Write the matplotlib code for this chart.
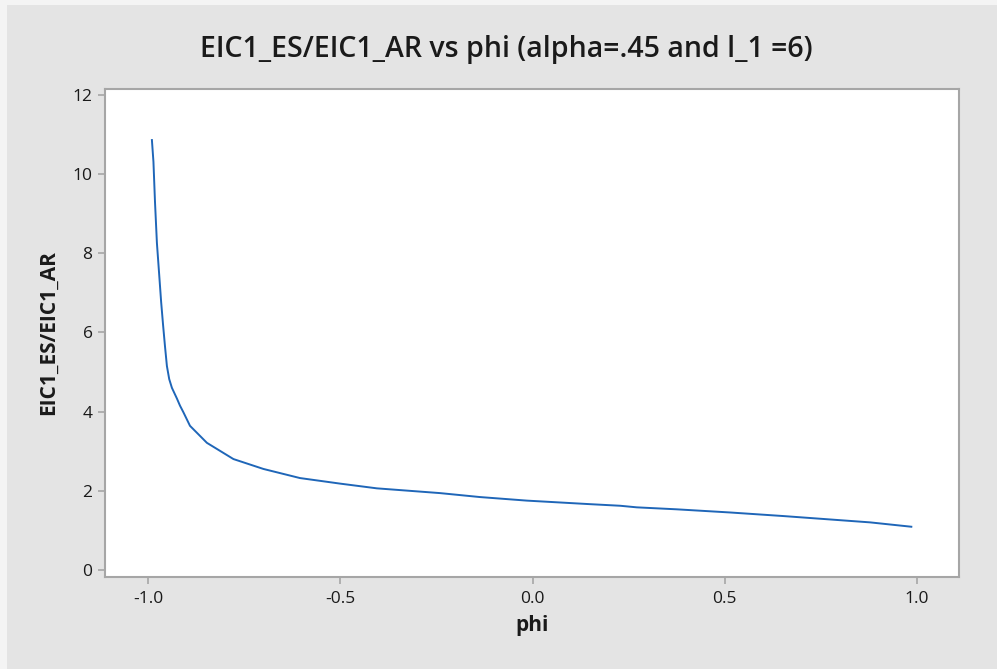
import matplotlib
matplotlib.use("Agg")
import matplotlib.pyplot as plt
from matplotlib.patches import Rectangle

# Data
phi = [-0.990, -0.986, -0.982, -0.977, -0.971, -0.966, -0.961, -0.956, -0.951,
       -0.945, -0.938, -0.925, -0.917, -0.908, -0.891, -0.847, -0.778, -0.700,
       -0.605, -0.501, -0.405, -0.241, -0.137, -0.015, 0.150, 0.228, 0.271,
       0.375, 0.514, 0.652, 0.765, 0.878, 0.985]
ratio = [10.86, 10.31, 9.30, 8.26, 7.45, 6.77, 6.19, 5.65, 5.15,
         4.82, 4.60, 4.33, 4.15, 3.98, 3.64, 3.21, 2.80, 2.55,
         2.32, 2.18, 2.06, 1.94, 1.84, 1.75, 1.66, 1.62, 1.58,
         1.53, 1.45, 1.36, 1.28, 1.20, 1.09]
x_ticks = [-1.0, -0.5, 0.0, 0.5, 1.0]
x_tick_labels = ["-1.0", "-0.5", "0.0", "0.5", "1.0"]
y_ticks = [0, 2, 4, 6, 8, 10, 12]

title = "EIC1_ES/EIC1_AR vs phi (alpha=.45 and l_1 =6)"
x_label = "phi"
y_label = "EIC1_ES/EIC1_AR"

plt.rcParams['font.family'] = ['Open Sans', 'DejaVu Sans']

fig = plt.figure(figsize=(9.97, 6.69), dpi=100)
fig.patch.set_facecolor('#f4f4f4')
fig.patches.append(Rectangle((7/997, 0), 1, 1 - 5/669, transform=fig.transFigure,
                             facecolor='#e4e4e4', edgecolor='none', zorder=-10))

ax = fig.add_axes([105/997, 92/669, (959-105)/997, (577-89)/669])
ax.set_facecolor('white')
ax.plot(phi, ratio, color='#1f66b8', linewidth=1.4)

ax.set_xlim(-1.112, 1.109)
ax.set_ylim(-0.18, 12.15)
ax.set_xticks(x_ticks)
ax.set_xticklabels(x_tick_labels)
ax.set_yticks(y_ticks)

for s in ax.spines.values():
    s.set_color('#a6a6a6')
    s.set_linewidth(1.5)
ax.tick_params(axis='both', colors='#a6a6a6', labelcolor='#1a1a1a',
               length=5, width=1.2, labelsize=12.5, direction='out')
ax.tick_params(axis='x', pad=5)
ax.tick_params(axis='y', pad=4)

ax.set_xlabel(x_label, fontsize=15, fontweight='bold', color='#1a1a1a', labelpad=6)
ax.set_ylabel(y_label, fontsize=15, fontweight='bold', color='#1a1a1a', labelpad=10)
fig.text(0.508, 1 - 57/669, title, fontsize=20.5, fontweight='semibold', color='#1a1a1a',
         ha='center', va='baseline')

fig.savefig("out.png", dpi=100, facecolor=fig.get_facecolor())
